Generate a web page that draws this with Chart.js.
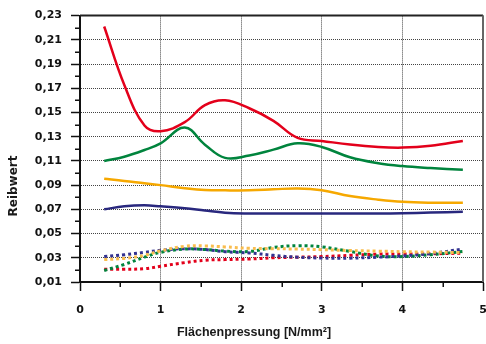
<!DOCTYPE html>
<html>
<head>
<meta charset="utf-8">
<script src="https://cdn.jsdelivr.net/npm/chart.js@4/dist/chart.umd.min.js"></script>
<style>
  html, body { margin: 0; padding: 0; background: #fff; }
  #wrap { width: 486px; height: 344px; position: relative; }
</style>
</head>
<body>
<div id="wrap"><canvas id="reibChart"></canvas></div>
<script>
// Flächenpressung [N/mm²] – Messpunkte
const pressung = [0.3, 0.55, 0.8, 1.0, 1.3, 1.55, 1.8, 2.1, 2.4, 2.7, 3.0, 3.35, 3.7, 4.0, 4.35, 4.75];

// Reibwerte, durchgezogene Kurven
const rotVoll    = [0.221, 0.1727, 0.1393, 0.1345, 0.142, 0.156, 0.160, 0.1535, 0.1431, 0.129, 0.1265, 0.1235, 0.1215, 0.121, 0.1225, 0.1265];
const gruenVoll  = [0.110, 0.1135, 0.119, 0.1245, 0.1375, 0.1234, 0.1125, 0.1145, 0.1193, 0.1245, 0.1215, 0.113, 0.1081, 0.1057, 0.1041, 0.1027];
const gelbVoll   = [0.0952, 0.0935, 0.0915, 0.090, 0.0875, 0.086, 0.0857, 0.0857, 0.0865, 0.0873, 0.0858, 0.081, 0.078, 0.0762, 0.0755, 0.0755];
const blauVoll   = [0.070, 0.0725, 0.0733, 0.0725, 0.071, 0.069, 0.0672, 0.0666, 0.0666, 0.0666, 0.0666, 0.0666, 0.0666, 0.0668, 0.0673, 0.068];

// Reibwerte, gepunktete Kurven
const blauPunkt  = [0.031, 0.0325, 0.0345, 0.0362, 0.0375, 0.0368, 0.035, 0.034, 0.032, 0.0305, 0.0298, 0.0297, 0.0305, 0.0315, 0.0335, 0.0372];
const gelbPunkt  = [0.0285, 0.0295, 0.032, 0.0357, 0.0395, 0.0398, 0.039, 0.0378, 0.0375, 0.0372, 0.0367, 0.036, 0.0355, 0.035, 0.0347, 0.0343];
const gruenPunkt = [0.0195, 0.0245, 0.0305, 0.0345, 0.0372, 0.0368, 0.0355, 0.0352, 0.0385, 0.040, 0.039, 0.0352, 0.0315, 0.031, 0.0325, 0.0352];
const rotPunkt   = [0.0205, 0.0205, 0.021, 0.023, 0.026, 0.028, 0.0285, 0.029, 0.030, 0.0305, 0.031, 0.032, 0.033, 0.033, 0.0333, 0.0338];

// Achsbeschriftung
const yTicks = [0.01, 0.03, 0.05, 0.07, 0.09, 0.11, 0.13, 0.15, 0.17, 0.19, 0.21, 0.23];
const yMinor = [0.02, 0.04, 0.06, 0.08, 0.10, 0.12, 0.14, 0.16, 0.18, 0.20, 0.22];
const xTicks = [0, 1, 2, 3, 4, 5];
const xMinor = [0.5, 1.5, 2.5, 3.5, 4.5];

const ROT = '#e3001b', GRUEN = '#00843d', GELB = '#f6a800', BLAU = '#29287e';

function punkte(werte) {
    return pressung.map((x, i) => ({ x: x, y: werte[i] }));
}

function kurve(werte, farbe, gepunktet) {
    return {
        data: punkte(werte),
        borderColor: farbe,
        borderWidth: gepunktet ? 3 : 2.5,
        borderDash: gepunktet ? [3, 3] : [],
        borderCapStyle: 'butt',
        pointRadius: 0,
        tension: 0.4,
        fill: false
    };
}

// Rahmen oben/rechts, kurze Zwischenstriche und Achsentitel
const rahmenPlugin = {
    id: 'rahmen',
    afterDraw(chart) {
        const { ctx, chartArea: a, scales: { x, y } } = chart;
        ctx.save();
        ctx.strokeStyle = '#111';
        ctx.lineWidth = 1.5;
        ctx.beginPath();
        yMinor.forEach(v => {
            const py = Math.round(y.getPixelForValue(v)) + 0.25;
            ctx.moveTo(a.left - 5, py);
            ctx.lineTo(a.left, py);
        });
        xMinor.forEach(v => {
            const px = Math.round(x.getPixelForValue(v)) + 0.25;
            ctx.moveTo(px, a.bottom);
            ctx.lineTo(px, a.bottom + 5);
        });
        ctx.stroke();

        ctx.lineWidth = 2;
        ctx.strokeStyle = '#222';
        ctx.beginPath();
        ctx.moveTo(a.left, a.top);
        ctx.lineTo(a.right, a.top);
        ctx.stroke();
        ctx.strokeStyle = '#666';
        ctx.beginPath();
        ctx.moveTo(a.right, a.top);
        ctx.lineTo(a.right, a.bottom);
        ctx.stroke();

        ctx.fillStyle = '#1a1a1a';
        ctx.textAlign = 'center';
        ctx.textBaseline = 'middle';
        ctx.font = 'bold 12.5px "Liberation Sans"';
        ctx.fillText('Flächenpressung [N/mm²]', 254, 333);
        ctx.translate(14, 186);
        ctx.rotate(-Math.PI / 2);
        ctx.font = 'bold 12px "DejaVu Sans"';
        ctx.fillText('Reibwert', 0, 0);
        ctx.restore();
    }
};

const tickFont = { family: '"DejaVu Sans"', size: 11, weight: 'bold' };

new Chart(document.getElementById('reibChart'), {
    type: 'line',
    data: {
        datasets: [
            kurve(rotVoll, ROT, false),
            kurve(gruenVoll, GRUEN, false),
            kurve(gelbVoll, GELB, false),
            kurve(blauVoll, BLAU, false),
            kurve(gelbPunkt, '#f9bd4e', true),
            kurve(blauPunkt, '#333290', true),
            kurve(gruenPunkt, GRUEN, true),
            kurve(rotPunkt, ROT, true)
        ]
    },
    options: {
        responsive: true,
        maintainAspectRatio: false,
        animation: false,
        layout: { padding: { top: 13, right: 3, left: 0, bottom: 0 } },
        plugins: {
            legend: { display: false },
            tooltip: { enabled: false }
        },
        scales: {
            x: {
                type: 'linear',
                min: 0,
                max: 5,
                afterBuildTicks: axis => { axis.ticks = xTicks.map(v => ({ value: v })); },
                afterFit: axis => {
                    axis.height = 62;
                    axis.paddingLeft = 0;
                    axis.paddingRight = 0;
                },
                ticks: {
                    padding: 13,
                    color: '#111',
                    font: tickFont,
                    autoSkip: false,
                    maxRotation: 0,
                    callback: v => String(v)
                },
                grid: {
                    color: '#444',
                    lineWidth: 1,
                    tickLength: 9,
                    tickColor: '#111',
                    tickWidth: 1.5
                },
                border: { display: true, color: '#111', width: 2, dash: [1, 1] }
            },
            y: {
                type: 'linear',
                min: 0.01,
                max: 0.23,
                afterBuildTicks: axis => { axis.ticks = yTicks.map(v => ({ value: v })); },
                afterFit: axis => { axis.width = 80; },
                ticks: {
                    padding: 9,
                    color: '#111',
                    font: tickFont,
                    autoSkip: false,
                    callback: v => v.toFixed(2).replace('.', ',')
                },
                grid: {
                    color: '#444',
                    lineWidth: 1,
                    tickLength: 9,
                    tickColor: '#111',
                    tickWidth: 1.5
                },
                border: { display: true, color: '#111', width: 2, dash: [1, 1] }
            }
        }
    },
    plugins: [rahmenPlugin]
});
</script>
</body>
</html>
